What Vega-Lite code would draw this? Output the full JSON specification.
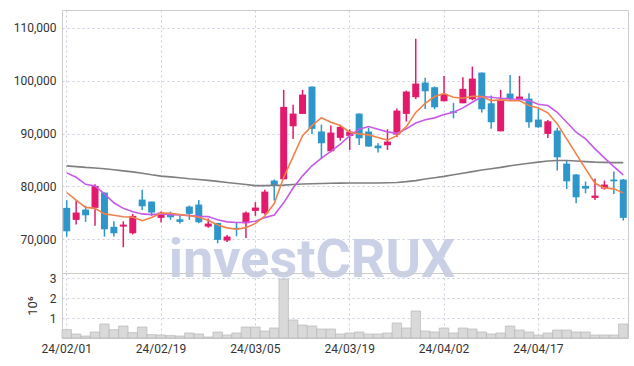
{
  "$schema": "https://vega.github.io/schema/vega-lite/v6.json",
  "padding": {"left": 12, "top": 9, "right": 7, "bottom": 5},
  "background": "white",
  "spacing": 0,
  "bounds": "flush",
  "data": {"values": [
    {"d": "24/02/01", "o": 75940, "h": 77400, "l": 70500, "c": 71510, "v": 420000, "m5": 78850, "m20": 82560, "m60": 83890},
    {"d": "24/02/02", "o": 73670, "h": 77320, "l": 72780, "c": 75050, "v": 200000, "m5": 77400, "m20": 81730, "m60": 83750},
    {"d": "24/02/05", "o": 75620, "h": 76380, "l": 73290, "c": 74540, "v": 100000, "m5": 76030, "m20": 80400, "m60": 83600},
    {"d": "24/02/06", "o": 75940, "h": 80400, "l": 72540, "c": 80100, "v": 300000, "m5": 75850, "m20": 80100, "m60": 83500},
    {"d": "24/02/07", "o": 78840, "h": 78840, "l": 70500, "c": 71890, "v": 700000, "m5": 74800, "m20": 78590, "m60": 83350},
    {"d": "24/02/08", "o": 72350, "h": 73400, "l": 70510, "c": 71140, "v": 420000, "m5": 74550, "m20": 76900, "m60": 83150},
    {"d": "24/02/13", "o": 72400, "h": 73400, "l": 68490, "c": 72780, "v": 600000, "m5": 74250, "m20": 75850, "m60": 82950},
    {"d": "24/02/14", "o": 71140, "h": 74800, "l": 70890, "c": 74430, "v": 270000, "m5": 74200, "m20": 75200, "m60": 82750},
    {"d": "24/02/15", "o": 77510, "h": 79350, "l": 75560, "c": 76240, "v": 550000, "m5": 73510, "m20": 74800, "m60": 82500},
    {"d": "24/02/16", "o": 77130, "h": 77130, "l": 74430, "c": 75050, "v": 170000, "m5": 74130, "m20": 74670, "m60": 82200},
    {"d": "24/02/19", "o": 74050, "h": 75240, "l": 73160, "c": 75050, "v": 150000, "m5": 74950, "m20": 74800, "m60": 81950},
    {"d": "24/02/20", "o": 74620, "h": 75240, "l": 73670, "c": 74160, "v": 120000, "m5": 74920, "m20": 74670, "m60": 81800},
    {"d": "24/02/21", "o": 73780, "h": 74430, "l": 72970, "c": 73290, "v": 100000, "m5": 74700, "m20": 74600, "m60": 81650},
    {"d": "24/02/22", "o": 76190, "h": 76380, "l": 73670, "c": 74810, "v": 250000, "m5": 74450, "m20": 74480, "m60": 81450},
    {"d": "24/02/23", "o": 76570, "h": 77450, "l": 73030, "c": 73220, "v": 200000, "m5": 74160, "m20": 74350, "m60": 81300},
    {"d": "24/02/26", "o": 72400, "h": 73920, "l": 72160, "c": 72970, "v": 50000, "m5": 73600, "m20": 74290, "m60": 81150},
    {"d": "24/02/27", "o": 73100, "h": 73100, "l": 69240, "c": 69890, "v": 300000, "m5": 72700, "m20": 73700, "m60": 80950},
    {"d": "24/02/28", "o": 69750, "h": 70830, "l": 69500, "c": 70510, "v": 150000, "m5": 72160, "m20": 73300, "m60": 80750},
    {"d": "24/02/29", "o": 72160, "h": 73290, "l": 70570, "c": 71890, "v": 250000, "m5": 71890, "m20": 73180, "m60": 80550},
    {"d": "24/03/04", "o": 73030, "h": 75240, "l": 70260, "c": 75050, "v": 550000, "m5": 72200, "m20": 73170, "m60": 80350},
    {"d": "24/03/05", "o": 75370, "h": 77000, "l": 74430, "c": 76000, "v": 550000, "m5": 73000, "m20": 73410, "m60": 80150},
    {"d": "24/03/06", "o": 74920, "h": 79350, "l": 74670, "c": 79020, "v": 350000, "m5": 74400, "m20": 74100, "m60": 80150},
    {"d": "24/03/07", "o": 81110, "h": 81300, "l": 77320, "c": 80160, "v": 500000, "m5": 76750, "m20": 74600, "m60": 80200},
    {"d": "24/03/08", "o": 81350, "h": 98270, "l": 81350, "c": 95050, "v": 2950000, "m5": 81700, "m20": 76900, "m60": 80250},
    {"d": "24/03/11", "o": 91380, "h": 95430, "l": 88990, "c": 93780, "v": 900000, "m5": 85650, "m20": 79700, "m60": 80350},
    {"d": "24/03/12", "o": 93720, "h": 98270, "l": 93720, "c": 97380, "v": 650000, "m5": 89620, "m20": 82000, "m60": 80450},
    {"d": "24/03/13", "o": 98890, "h": 98890, "l": 89940, "c": 90890, "v": 600000, "m5": 91500, "m20": 83900, "m60": 80500},
    {"d": "24/03/14", "o": 90380, "h": 91700, "l": 85210, "c": 88160, "v": 450000, "m5": 93000, "m20": 85350, "m60": 80550},
    {"d": "24/03/15", "o": 86650, "h": 91510, "l": 86460, "c": 90190, "v": 450000, "m5": 92140, "m20": 86620, "m60": 80600},
    {"d": "24/03/18", "o": 89190, "h": 91640, "l": 88670, "c": 91270, "v": 200000, "m5": 91510, "m20": 87980, "m60": 80620},
    {"d": "24/03/19", "o": 89560, "h": 90810, "l": 86910, "c": 90380, "v": 250000, "m5": 90250, "m20": 89600, "m60": 80640},
    {"d": "24/03/20", "o": 93780, "h": 93780, "l": 87860, "c": 89110, "v": 300000, "m5": 89940, "m20": 90800, "m60": 80650},
    {"d": "24/03/21", "o": 90380, "h": 91080, "l": 87540, "c": 87540, "v": 200000, "m5": 89750, "m20": 91320, "m60": 80650},
    {"d": "24/03/22", "o": 87730, "h": 88160, "l": 86400, "c": 87220, "v": 200000, "m5": 89240, "m20": 90820, "m60": 80660},
    {"d": "24/03/25", "o": 87790, "h": 90810, "l": 86910, "c": 88480, "v": 250000, "m5": 88740, "m20": 90320, "m60": 80700},
    {"d": "24/03/26", "o": 89810, "h": 94730, "l": 89300, "c": 94350, "v": 750000, "m5": 89600, "m20": 90030, "m60": 80750},
    {"d": "24/03/27", "o": 93730, "h": 98130, "l": 92270, "c": 97950, "v": 500000, "m5": 91300, "m20": 90900, "m60": 80900},
    {"d": "24/03/28", "o": 96870, "h": 107920, "l": 96560, "c": 99460, "v": 1350000, "m5": 94000, "m20": 92000, "m60": 81100},
    {"d": "24/03/29", "o": 99650, "h": 100540, "l": 94670, "c": 98000, "v": 350000, "m5": 95700, "m20": 92600, "m60": 81400},
    {"d": "24/04/01", "o": 98770, "h": 98900, "l": 94600, "c": 94970, "v": 300000, "m5": 97000, "m20": 92970, "m60": 81650},
    {"d": "24/04/02", "o": 96110, "h": 100900, "l": 96110, "c": 97510, "v": 500000, "m5": 97560, "m20": 93620, "m60": 81900},
    {"d": "24/04/03", "o": 94220, "h": 95810, "l": 92890, "c": 93920, "v": 250000, "m5": 96870, "m20": 94030, "m60": 82200},
    {"d": "24/04/04", "o": 95730, "h": 100650, "l": 95730, "c": 98460, "v": 500000, "m5": 96680, "m20": 94860, "m60": 82500},
    {"d": "24/04/05", "o": 96490, "h": 102680, "l": 96300, "c": 100400, "v": 450000, "m5": 97060, "m20": 95920, "m60": 82800},
    {"d": "24/04/08", "o": 101540, "h": 101540, "l": 93970, "c": 94600, "v": 300000, "m5": 97000, "m20": 97000, "m60": 83100},
    {"d": "24/04/09", "o": 95730, "h": 97190, "l": 90890, "c": 92140, "v": 200000, "m5": 96240, "m20": 96870, "m60": 83350},
    {"d": "24/04/11", "o": 90430, "h": 98270, "l": 90430, "c": 96370, "v": 250000, "m5": 96370, "m20": 96680, "m60": 83600},
    {"d": "24/04/12", "o": 97570, "h": 101100, "l": 96240, "c": 96560, "v": 600000, "m5": 96240, "m20": 96560, "m60": 83900},
    {"d": "24/04/15", "o": 96490, "h": 100910, "l": 96300, "c": 97000, "v": 400000, "m5": 96200, "m20": 96490, "m60": 84150},
    {"d": "24/04/16", "o": 96620, "h": 97620, "l": 91080, "c": 92140, "v": 300000, "m5": 95300, "m20": 96240, "m60": 84400},
    {"d": "24/04/17", "o": 92650, "h": 94670, "l": 91100, "c": 91190, "v": 150000, "m5": 94820, "m20": 95530, "m60": 84600},
    {"d": "24/04/18", "o": 89940, "h": 92590, "l": 89180, "c": 92330, "v": 250000, "m5": 93920, "m20": 95300, "m60": 84800},
    {"d": "24/04/19", "o": 90570, "h": 91080, "l": 83000, "c": 85510, "v": 400000, "m5": 91830, "m20": 94030, "m60": 84900},
    {"d": "24/04/22", "o": 84320, "h": 84890, "l": 79540, "c": 80970, "v": 400000, "m5": 88990, "m20": 92140, "m60": 84900},
    {"d": "24/04/23", "o": 82240, "h": 82370, "l": 76810, "c": 77950, "v": 300000, "m5": 86160, "m20": 90250, "m60": 84800},
    {"d": "24/04/24", "o": 80100, "h": 80920, "l": 78700, "c": 79590, "v": 300000, "m5": 83320, "m20": 88990, "m60": 84700},
    {"d": "24/04/25", "o": 77830, "h": 81430, "l": 77450, "c": 78270, "v": 150000, "m5": 80600, "m20": 87100, "m60": 84600},
    {"d": "24/04/26", "o": 79590, "h": 81110, "l": 79400, "c": 80350, "v": 150000, "m5": 79720, "m20": 85400, "m60": 84550},
    {"d": "24/04/29", "o": 81300, "h": 82810, "l": 78590, "c": 80970, "v": 150000, "m5": 79540, "m20": 83750, "m60": 84500},
    {"d": "24/04/30", "o": 81300, "h": 81400, "l": 73540, "c": 74050, "v": 700000, "m5": 78780, "m20": 82180, "m60": 84500}
  ]},
  "config": {
    "view": {"stroke": "#cccccc", "strokeWidth": 1},
    "axis": {
      "labelFont": "Roboto", "labelFontSize": 12, "labelColor": "#333333",
      "titleFont": "Roboto", "titleFontSize": 13, "titleFontWeight": "normal", "titleColor": "#333333",
      "grid": true, "gridColor": "#c9cde0", "gridDash": [2, 3], "gridWidth": 1,
      "ticks": false, "domain": false, "labelPadding": 6
    }
  },
  "vconcat": [
    {
      "width": 566,
      "height": 263,
      "encoding": {
        "x": {
          "field": "d", "type": "ordinal", "sort": null,
          "scale": {"paddingInner": 0, "paddingOuter": 0, "domain": ["24/02/01","24/02/02","24/02/05","24/02/06","24/02/07","24/02/08","24/02/13","24/02/14","24/02/15","24/02/16","24/02/19","24/02/20","24/02/21","24/02/22","24/02/23","24/02/26","24/02/27","24/02/28","24/02/29","24/03/04","24/03/05","24/03/06","24/03/07","24/03/08","24/03/11","24/03/12","24/03/13","24/03/14","24/03/15","24/03/18","24/03/19","24/03/20","24/03/21","24/03/22","24/03/25","24/03/26","24/03/27","24/03/28","24/03/29","24/04/01","24/04/02","24/04/03","24/04/04","24/04/05","24/04/08","24/04/09","24/04/11","24/04/12","24/04/15","24/04/16","24/04/17","24/04/18","24/04/19","24/04/22","24/04/23","24/04/24","24/04/25","24/04/26","24/04/29","24/04/30"]},
          "axis": {"values": ["24/02/01", "24/02/19", "24/03/05", "24/03/19", "24/04/02", "24/04/17"], "labels": false, "title": null, "bandPosition": 0.5}
        }
      },
      "layer": [
        {
          "data": {"values": [{"t": "investCRUX"}]},
          "mark": {"type": "text", "font": "Roboto", "fontWeight": "bold", "fontSize": 54, "color": "#c5cce4", "opacity": 0.9, "align": "center", "baseline": "alphabetic"},
          "encoding": {
            "x": {"datum": "24/03/13"},
            "y": {"datum": 62950, "type": "quantitative"},
            "text": {"field": "t"}
          }
        },
        {
          "mark": {"type": "rule", "strokeWidth": 1.5},
          "encoding": {
            "y": {"field": "l", "type": "quantitative", "scale": {"domain": [63620, 113380], "zero": false, "nice": false},
                  "axis": {"values": [70000, 80000, 90000, 100000, 110000], "format": ",d", "title": null}},
            "y2": {"field": "h"},
            "color": {"condition": {"test": "datum.c >= datum.o", "value": "#e31a6b"}, "value": "#2e96c8"}
          }
        },
        {
          "mark": {"type": "bar", "size": 7},
          "encoding": {
            "y": {"field": "o", "type": "quantitative"},
            "y2": {"field": "c"},
            "color": {"condition": {"test": "datum.c >= datum.o", "value": "#e31a6b"}, "value": "#2e96c8"}
          }
        },
        {
          "mark": {"type": "line", "color": "#7f7f7f", "strokeWidth": 1.6},
          "encoding": {"y": {"field": "m60", "type": "quantitative"}}
        },
        {
          "mark": {"type": "line", "color": "#c75ae8", "strokeWidth": 1.6},
          "encoding": {"y": {"field": "m20", "type": "quantitative"}}
        },
        {
          "mark": {"type": "line", "color": "#f0824a", "strokeWidth": 1.6},
          "encoding": {"y": {"field": "m5", "type": "quantitative"}}
        }
      ]
    },
    {
      "width": 566,
      "height": 65,
      "mark": {"type": "bar", "fill": "#d9d9d9", "stroke": "#b8b8b8", "strokeWidth": 0.7},
      "encoding": {
        "x": {
          "field": "d", "type": "ordinal", "sort": null,
          "scale": {"paddingInner": 0, "paddingOuter": 0},
          "axis": {"values": ["24/02/01", "24/02/19", "24/03/05", "24/03/19", "24/04/02", "24/04/17"], "labelAngle": 0, "title": null, "bandPosition": 0.5, "labelPadding": 5}
        },
        "y": {
          "field": "v", "type": "quantitative",
          "scale": {"domain": [0, 3250000], "nice": false},
          "axis": {"values": [1000000, 2000000, 3000000], "labelExpr": "datum.value / 1000000", "title": "10⁶", "titlePadding": 10}
        }
      }
    }
  ]
}
